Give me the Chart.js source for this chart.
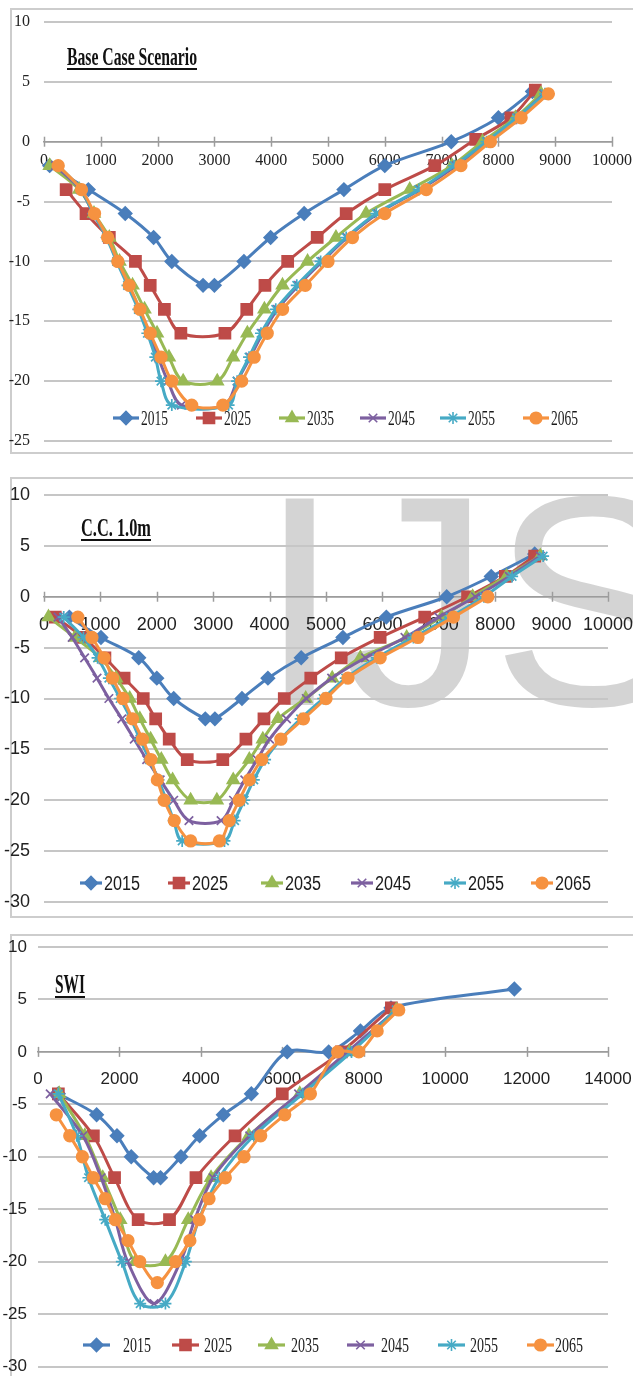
<!DOCTYPE html>
<html>
<head>
<meta charset="utf-8">
<script src="https://cdn.jsdelivr.net/npm/chart.js@4.4.1/dist/chart.umd.min.js"></script>
<style>
  html, body { margin: 0; padding: 0; background: #fff; width: 633px; height: 1376px; overflow: hidden; }
  .frame { position: absolute; box-sizing: border-box; border: 2px solid #cdcdcd; }
  canvas { position: absolute; left: 0; }
</style>
</head>
<body>
<div class="frame" style="left:10px;top:8px;width:660px;height:446px"></div>
<div class="frame" style="left:10px;top:477px;width:660px;height:441px"></div>
<div class="frame" style="left:10px;top:934px;width:660px;height:470px"></div>
<canvas id="base" width="633" height="446" style="top:8px"></canvas>
<canvas id="cc" width="633" height="441" style="top:477px"></canvas>
<canvas id="swi" width="633" height="442" style="top:934px"></canvas>
<script>
// Series names (years)
const seriesYears = ['2015', '2025', '2035', '2045', '2055', '2065'];

// Base case scenario: [distance, level]
const base2015 = [[100,-2],[780,-4],[1430,-6],[1930,-8],[2250,-10],[2800,-12],[3000,-12],[3520,-10],[3990,-8],[4580,-6],[5280,-4],[6000,-2],[7170,0],[8000,2],[8600,4.2]];
const base2025 = [[390,-4],[740,-6],[1150,-8],[1610,-10],[1870,-12],[2120,-14],[2410,-16],[3185,-16],[3570,-14],[3890,-12],[4290,-10],[4810,-8],[5320,-6],[6000,-4],[6880,-2],[7600,0.2],[8220,2],[8650,4.3]];
const base2035 = [[100,-2],[620,-4],[880,-6],[1150,-8],[1330,-10],[1560,-12],[1770,-14],[1990,-16],[2200,-18],[2450,-20],[3050,-20],[3330,-18],[3580,-16],[3880,-14],[4200,-12],[4640,-10],[5140,-8],[5670,-6],[6440,-4],[7180,-2],[7720,0],[8300,2],[8750,4]];
const base2045 = [[200,-2],[640,-4],[870,-6],[1110,-8],[1290,-10],[1490,-12],[1680,-14],[1850,-16],[2010,-18],[2180,-20],[2420,-22],[3180,-22],[3400,-20],[3630,-18],[3850,-16],[4110,-14],[4480,-12],[4900,-10],[5340,-8],[5880,-6],[6620,-4],[7260,-2],[7800,0],[8340,2],[8800,4]];
const base2055 = [[250,-2],[650,-4],[870,-6],[1100,-8],[1280,-10],[1470,-12],[1660,-14],[1820,-16],[1960,-18],[2060,-20],[2250,-22],[3250,-22],[3400,-20],[3610,-18],[3820,-16],[4080,-14],[4450,-12],[4870,-10],[5320,-8],[5850,-6],[6600,-4],[7220,-2],[7790,0],[8320,2],[8820,4]];
const base2065 = [[250,-2],[660,-4],[890,-6],[1120,-8],[1300,-10],[1500,-12],[1690,-14],[1870,-16],[2060,-18],[2250,-20],[2600,-22],[3150,-22],[3480,-20],[3700,-18],[3930,-16],[4200,-14],[4600,-12],[5000,-10],[5430,-8],[6000,-6],[6730,-4],[7340,-2],[7860,0],[8400,2],[8880,4]];

// C.C. 1.0m scenario
const cc2015 = [[450,-2],[1010,-4],[1680,-6],[2000,-8],[2300,-10],[2860,-12],[3030,-12],[3510,-10],[3970,-8],[4560,-6],[5300,-4],[6070,-2],[7140,0],[7930,2],[8700,4.2]];
const cc2025 = [[200,-2],[700,-4],[1080,-6],[1420,-8],[1760,-10],[1980,-12],[2220,-14],[2540,-16],[3170,-16],[3580,-14],[3900,-12],[4260,-10],[4730,-8],[5270,-6],[5960,-4],[6750,-2],[7510,0],[8180,2],[8700,4]];
const cc2035 = [[80,-2],[550,-4],[1000,-6],[1280,-8],[1520,-10],[1700,-12],[1890,-14],[2080,-16],[2280,-18],[2600,-20],[3065,-20],[3355,-18],[3640,-16],[3880,-14],[4150,-12],[4640,-10],[5110,-8],[5610,-6],[6430,-4],[7050,-2],[7600,0],[8200,2],[8800,4]];
const cc2045 = [[250,-2],[500,-4],[720,-6],[940,-8],[1150,-10],[1380,-12],[1600,-14],[1820,-16],[2060,-18],[2300,-20],[2570,-22],[3140,-22],[3360,-20],[3560,-18],[3780,-16],[4000,-14],[4300,-12],[4650,-10],[5100,-8],[5700,-6],[6400,-4],[7000,-2],[7650,0],[8250,2],[8800,4]];
const cc2055 = [[350,-2],[700,-4],[950,-6],[1150,-8],[1350,-10],[1540,-12],[1700,-14],[1870,-16],[2030,-18],[2170,-20],[2300,-22],[2450,-24],[3200,-24],[3380,-22],[3550,-20],[3720,-18],[3920,-16],[4200,-14],[4550,-12],[4950,-10],[5350,-8],[5900,-6],[6550,-4],[7200,-2],[7800,0],[8300,2],[8850,4]];
const cc2065 = [[600,-2],[850,-4],[1065,-6],[1215,-8],[1400,-10],[1570,-12],[1745,-14],[1895,-16],[2010,-18],[2130,-20],[2310,-22],[2600,-24],[3110,-24],[3285,-22],[3460,-20],[3640,-18],[3860,-16],[4200,-14],[4600,-12],[5000,-10],[5390,-8],[5960,-6],[6630,-4],[7260,-2],[7870,0]];

// SWI scenario
const swi2015 = [[500,-4],[1440,-6],[1940,-8],[2290,-10],[2840,-12],[3010,-12],[3510,-10],[3970,-8],[4550,-6],[5240,-4],[6120,0],[7140,0],[7920,2],[8670,4.2],[11700,6]];
const swi2025 = [[500,-4],[1360,-8],[1880,-12],[2460,-16],[3230,-16],[3880,-12],[4840,-8],[6000,-4],[7450,0],[8680,4.2]];
const swi2035 = [[520,-4],[1150,-8],[1590,-12],[2020,-16],[2390,-20],[3130,-20],[3690,-16],[4250,-12],[5180,-8],[6430,-4],[7650,0],[8800,4]];
const swi2045 = [[300,-4],[1100,-8],[1550,-12],[1900,-16],[2200,-20],[2850,-24],[3500,-20],[3850,-16],[4300,-12],[5200,-8],[6400,-4],[7600,0],[8800,4]];
const swi2055 = [[500,-4],[950,-8],[1240,-12],[1650,-16],[2060,-20],[2510,-24],[3130,-24],[3630,-20],[3950,-16],[4450,-12],[5300,-8],[6500,-4],[7700,0],[8800,4]];
const swi2065 = [[450,-6],[780,-8],[1090,-10],[1360,-12],[1650,-14],[1900,-16],[2210,-18],[2500,-20],[2930,-22],[3380,-20],[3730,-18],[3960,-16],[4200,-14],[4600,-12],[5060,-10],[5470,-8],[6060,-6],[6690,-4],[7360,0],[7880,0],[8330,2],[8860,4]];

// Tick labels
const baseXTicks = [0,1000,2000,3000,4000,5000,6000,7000,8000,9000,10000];
const baseYTicks = [10,5,0,-5,-10,-15,-20,-25];
const ccXTicks = [0,1000,2000,3000,4000,5000,6000,7000,8000,9000,10000];
const ccYTicks = [10,5,0,-5,-10,-15,-20,-25,-30];
const swiXTicks = [0,2000,4000,6000,8000,10000,12000,14000];
const swiYTicks = [10,5,0,-5,-10,-15,-20,-25,-30];

// Panel titles
const baseTitle = 'Base Case Scenario';
const ccTitle = 'C.C. 1.0m';
const swiTitle = 'SWI';

// Line / marker look for each year, in series order
const seriesLook = [
  { color: '#4A7EBB', pointStyle: 'rectRot',  radius: 6.5 },
  { color: '#BE4B48', pointStyle: 'rect',     radius: 7.8 },
  { color: '#98B954', pointStyle: 'triangle', radius: 6.8 },
  { color: '#7D60A0', pointStyle: 'crossRot', radius: 6 },
  { color: '#46AAC5', pointStyle: 'star',     radius: 6 },
  { color: '#F69240', pointStyle: 'circle',   radius: 5.8 }
];

const SERIF = "'Liberation Serif', 'Times New Roman', serif";
const NARROW = "'Liberation Sans Narrow', 'Arial Narrow', 'Liberation Sans', sans-serif";

function squeezeText(ctx, text, x, y, font, width, color, baseline) {
  ctx.save();
  ctx.font = font;
  ctx.fillStyle = color;
  ctx.textBaseline = baseline || 'alphabetic';
  ctx.textAlign = 'left';
  const w = ctx.measureText(text).width;
  const sx = width ? width / w : 1;
  ctx.translate(x, y);
  ctx.scale(sx, 1);
  ctx.fillText(text, 0, 0);
  ctx.restore();
  return w * sx;
}

function marker(ctx, look, x, y) {
  ctx.save();
  ctx.fillStyle = look.color;
  ctx.strokeStyle = look.color;
  ctx.lineWidth = 1.6;
  Chart.helpers.drawPoint(ctx, { pointStyle: look.pointStyle, radius: look.radius, rotation: 0, borderWidth: 1.6 }, x, y);
  ctx.restore();
}

// Titles, legend, cross tick marks and the background lettering
const decor = {
  id: 'decor',
  beforeDraw(chart, args, o) {
    if (!o.watermark) return;
    const ctx = chart.ctx;
    ctx.save();
    ctx.font = o.watermark.font;
    ctx.fillStyle = o.watermark.color;
    ctx.textBaseline = 'alphabetic';
    ctx.fillText(o.watermark.text, o.watermark.x, o.watermark.y);
    ctx.restore();
  },
  beforeDatasetsDraw(chart) {
    const { ctx, scales: { x, y } } = chart;
    const y0 = y.getPixelForValue(0);
    ctx.save();
    ctx.strokeStyle = '#9c9c9c';
    ctx.lineWidth = 1.5;
    x.ticks.forEach(t => {
      const px = Math.round(x.getPixelForValue(t.value)) + 0.5;
      ctx.beginPath();
      ctx.moveTo(px, y0 - 5);
      ctx.lineTo(px, y0 + 5);
      ctx.stroke();
    });
    ctx.restore();
  },
  afterDraw(chart, args, o) {
    const ctx = chart.ctx;
    const t = o.title;
    const w = squeezeText(ctx, t.text, t.x, t.y, t.font, t.width, '#111');
    ctx.save();
    ctx.fillStyle = '#111';
    ctx.fillRect(t.x, t.y + t.gap, w, 2);
    ctx.restore();

    const lg = o.legend;
    chart.data.datasets.forEach((ds, i) => {
      const look = seriesLook[i];
      const tx = lg.textX[i];
      const x1 = lg.lineX ? lg.lineX[i] : tx - lg.lineLen - lg.gap;
      const x2 = x1 + lg.lineLen;
      ctx.save();
      ctx.strokeStyle = look.color;
      ctx.lineWidth = 3.2;
      ctx.beginPath();
      ctx.moveTo(x1, lg.y);
      ctx.lineTo(x2, lg.y);
      ctx.stroke();
      ctx.restore();
      marker(ctx, look, (x1 + x2) / 2, lg.y);
      squeezeText(ctx, ds.label, tx, lg.y + 1, lg.font, lg.width, '#1a1a1a', 'middle');
    });
  }
};

function buildDatasets(list) {
  return list.map((pts, i) => ({
    label: seriesYears[i],
    data: pts.map(([x, y]) => ({ x, y })),
    showLine: true,
    borderColor: seriesLook[i].color,
    backgroundColor: seriesLook[i].color,
    borderWidth: 3,
    tension: 0.33,
    pointStyle: seriesLook[i].pointStyle,
    pointRadius: seriesLook[i].radius,
    pointBorderWidth: 1.7,
    pointBackgroundColor: seriesLook[i].color,
    pointBorderColor: seriesLook[i].color,
    order: 5 - i,
    clip: false
  }));
}

// Tick labels may overhang the plot edges; keep them from shrinking it
function noOverhang(s) {
  s.paddingTop = 0; s.paddingBottom = 0; s.paddingLeft = 0; s.paddingRight = 0;
}

// Nudge the layout padding until the plot area sits where it should
function fitArea(chart, area) {
  const p = chart.options.layout.padding;
  for (let k = 0; k < 5; k++) {
    const a = chart.chartArea;
    const dt = area.top - a.top, db = a.bottom - area.bottom, dr = a.right - area.right;
    if (Math.abs(dt) < 0.3 && Math.abs(db) < 0.3 && Math.abs(dr) < 0.3) break;
    p.top += dt; p.bottom += db; p.right += dr;
    chart.update();
  }
}

function panel(id, cfg) {
  const canvas = document.getElementById(id);
  const chart = new Chart(canvas, {
    type: 'scatter',
    data: { datasets: buildDatasets(cfg.series) },
    options: {
      responsive: false,
      animation: false,
      devicePixelRatio: 1,
      events: [],
      layout: { padding: { left: 0, right: canvas.width - cfg.area.right, top: cfg.area.top, bottom: canvas.height - cfg.area.bottom } },
      plugins: {
        legend: { display: false },
        tooltip: { enabled: false },
        decor: cfg.decor
      },
      scales: {
        x: {
          type: 'linear',
          position: { y: 0 },
          min: cfg.xTicks[0],
          max: cfg.xTicks[cfg.xTicks.length - 1],
          afterBuildTicks: s => { s.ticks = cfg.xTicks.map(v => ({ value: v })); },
          afterFit: noOverhang,
          ticks: { font: cfg.tickFont, color: '#222', padding: cfg.xPad, maxRotation: 0, autoSkip: false, callback: v => String(v) },
          grid: { display: false, drawTicks: false },
          border: { display: true, color: '#9c9c9c', width: 1.5 }
        },
        y: {
          type: 'linear',
          min: cfg.yTicks[cfg.yTicks.length - 1],
          max: cfg.yTicks[0],
          afterBuildTicks: s => { s.ticks = cfg.yTicks.map(v => ({ value: v })); },
          afterFit: s => { s.width = cfg.area.left; noOverhang(s); },
          ticks: { font: cfg.tickFont, color: '#222', padding: cfg.yPad, callback: v => String(v) },
          grid: { color: '#c6c6c6', lineWidth: 2, drawTicks: false },
          border: { display: false }
        }
      }
    },
    plugins: [decor]
  });
  fitArea(chart, cfg.area);
  return chart;
}

panel('base', {
  series: [base2015, base2025, base2035, base2045, base2055, base2065],
  xTicks: baseXTicks, yTicks: baseYTicks,
  area: { left: 44, right: 612, top: 14, bottom: 433 },
  yPad: 14, xPad: 9,
  tickFont: { family: SERIF, size: 16 },
  decor: {
    title: { text: baseTitle, x: 67, y: 57, font: "bold 26px " + SERIF, width: 130, gap: 3 },
    legend: { y: 410, textX: [141, 224, 307, 388, 468, 551], lineLen: 26, gap: 2, font: "22px " + SERIF, width: 27 }
  }
});

panel('cc', {
  series: [cc2015, cc2025, cc2035, cc2045, cc2055, cc2065],
  xTicks: ccXTicks, yTicks: ccYTicks,
  area: { left: 44, right: 608, top: 18, bottom: 425 },
  yPad: 14, xPad: 17,
  tickFont: { family: NARROW, size: 18 },
  decor: {
    watermark: { text: 'IJS', x: 258, y: 228, font: "300px 'Liberation Sans', Arial, sans-serif", color: 'rgba(0,0,0,0.17)' },
    title: { text: ccTitle, x: 81, y: 59, font: "bold 25px " + SERIF, width: 70, gap: 3 },
    legend: { y: 406, textX: [104, 192, 285, 375, 468, 555], lineLen: 22, gap: 2, font: "20px " + NARROW, width: 36 }
  }
});

panel('swi', {
  series: [swi2015, swi2025, swi2035, swi2045, swi2055, swi2065],
  xTicks: swiXTicks, yTicks: swiYTicks,
  area: { left: 38, right: 608, top: 13, bottom: 433 },
  yPad: 11, xPad: 17,
  tickFont: { family: NARROW, size: 17 },
  decor: {
    title: { text: swiTitle, x: 55, y: 59, font: "bold 28px " + SERIF, width: 30, gap: 3 },
    legend: { y: 411, textX: [123, 204, 291, 381, 470, 555], lineX: [83, 172, 258, 347, 438, 527], lineLen: 27, gap: 2, font: "22px " + SERIF, width: 28 }
  }
});
</script>
</body>
</html>
